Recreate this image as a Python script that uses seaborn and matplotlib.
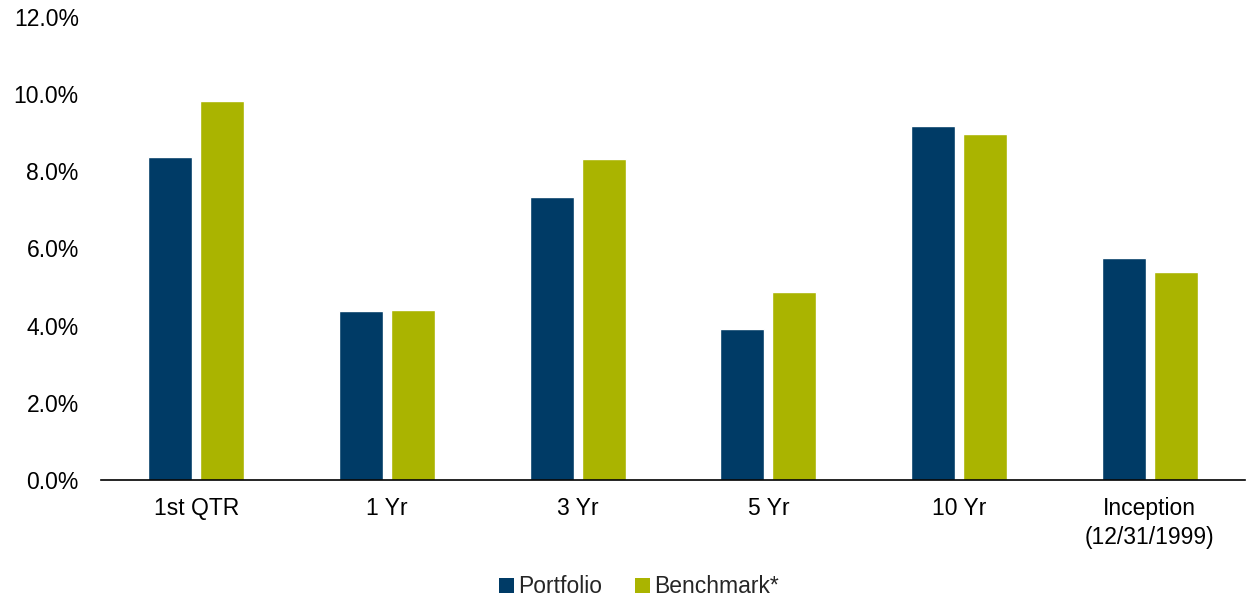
import matplotlib
matplotlib.use("Agg")
import matplotlib.pyplot as plt
import seaborn as sns
import pandas as pd
from matplotlib.ticker import FuncFormatter, MultipleLocator
from matplotlib.patches import Patch

categories = ["1st QTR", "1 Yr", "3 Yr", "5 Yr", "10 Yr", "Inception\n(12/31/1999)"]
portfolio = [8.37, 4.38, 7.33, 3.91, 9.17, 5.75]
benchmark = [9.82, 4.41, 8.32, 4.87, 8.96, 5.39]
series_names = ["Portfolio", "Benchmark*"]
colors = ["#003B66", "#AAB400"]

df = pd.DataFrame({
    "Period": categories * 2,
    "Series": [series_names[0]] * len(categories) + [series_names[1]] * len(categories),
    "Value": portfolio + benchmark,
})

sns.set_theme(style="white")
plt.rcParams["font.family"] = ["Liberation Sans", "DejaVu Sans"]

fig = plt.figure(figsize=(12.53, 5.98), dpi=100)
ax = fig.add_axes([0.0806, 0.1973, 0.9130, 0.7743])

sns.barplot(data=df, x="Period", y="Value", hue="Series", order=categories,
            hue_order=series_names, palette=colors, width=0.545, gap=0.15,
            saturation=1, ax=ax, legend=False)

fs = 16.5
ax.set_ylim(0, 12)
ax.set_xlim(-0.5, len(categories) - 0.5)
ax.yaxis.set_major_locator(MultipleLocator(2))
ax.yaxis.set_major_formatter(FuncFormatter(lambda v, p: f"{v:.1f}%"))
ax.set_xlabel("")
ax.set_ylabel("")
for s in ["top", "right", "left"]:
    ax.spines[s].set_visible(False)
ax.spines["bottom"].set_color("#000000")
ax.spines["bottom"].set_linewidth(1.2)
ax.tick_params(axis="y", length=0, labelsize=fs, colors="#000000", pad=16)
ax.tick_params(axis="x", length=0, labelsize=fs, colors="#000000", pad=12)
for lbl in ax.get_xticklabels():
    lbl.set_linespacing(1.35)
ax.grid(False)

handles = [Patch(facecolor=c, edgecolor="none") for c in colors]
fig.legend(handles, series_names, loc="lower center", bbox_to_anchor=(0.51, -0.035),
           ncol=2, frameon=False, fontsize=fs, handlelength=0.65, handleheight=0.65,
           handletextpad=0.2, columnspacing=1.4)

fig.savefig("out.png", dpi=100)
